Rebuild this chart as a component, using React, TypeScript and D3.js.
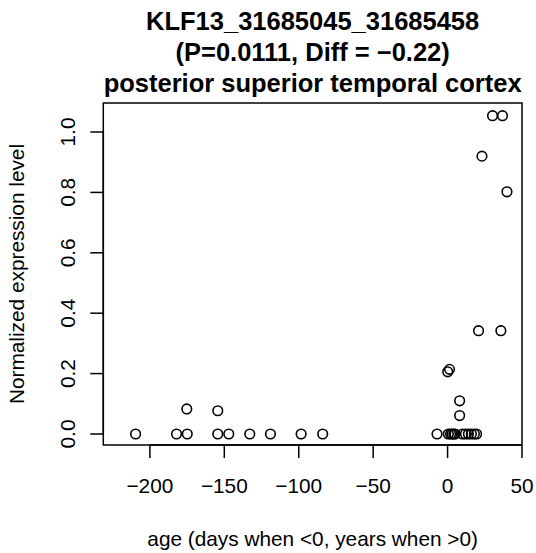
import React from "react";
import * as d3 from "d3";

const titleLines = [
  "KLF13_31685045_31685458",
  "(P=0.0111, Diff = \u22120.22)",
  "posterior superior temporal cortex",
];
const xLabel = "age (days when <0, years when >0)";
const yLabel = "Normalized expression level";

const xTicks = [-200, -150, -100, -50, 0, 50];
const yTicks = [0, 0.2, 0.4, 0.6, 0.8, 1.0];

const ages = [
  -209.6, -182.1, -174.9, -175.2, -154.4, -154.4, -147.0, -132.9, -119.0, -98.4, -83.9,
  -7.1, 0.1, 1.3, 0.5, 2.0, 3.0, 4.2, 5.0, 8.1, 8.1, 10.0, 12.0, 14.0, 16.0, 18.0, 19.5,
  20.8, 35.8, 23.1, 30.2, 36.9, 39.9,
];
const values = [
  0, 0, 0, 0.083, 0, 0.077, 0, 0, 0, 0, 0,
  0, 0.206, 0.214, 0, 0, 0, 0, 0, 0.11, 0.061, 0, 0, 0, 0, 0, 0,
  0.342, 0.342, 0.92, 1.054, 1.054, 0.802,
];

const W = 536;
const H = 553;
const L = 103.3;
const R = 522;
const T = 103;
const B = 445;

const fmtX = (v: number) => (v < 0 ? "\u2212" + Math.abs(v) : String(v));

export default function App() {
  const x = d3.scaleLinear().domain([-231.3, 50]).range([L, R]);
  const y = d3.scaleLinear().domain([0, 1]).range([434, 132]);
  const font = "'Liberation Sans', Arial, sans-serif";
  const pts = ages.map((a, i) => ({ a, v: values[i] }));
  const cx = (L + R) / 2;
  const cy = (T + B) / 2;
  return (
    <svg
      width={W}
      height={H}
      style={{ position: "absolute", left: 0, top: 0, background: "#fff" }}
      fontFamily={font}
    >
      <rect x={0} y={0} width={W} height={H} fill="#fff" />
      {titleLines.map((t, i) => (
        <text
          key={i}
          x={cx}
          y={29.5 + i * 31.1}
          textAnchor="middle"
          fontWeight="bold"
          fontSize={25.5}
          fill="#000"
        >
          {t}
        </text>
      ))}
      <rect x={L} y={T} width={R - L} height={B - T} fill="none" stroke="#000" strokeWidth={1.5} />
      <line x1={x(-200)} x2={x(50)} y1={B} y2={B} stroke="#000" strokeWidth={1.5} />
      {xTicks.map((t) => (
        <g key={t}>
          <line x1={x(t)} x2={x(t)} y1={B} y2={B + 13} stroke="#000" strokeWidth={1.5} />
          <text x={x(t)} y={492.5} textAnchor="middle" fontSize={20.8} fill="#000">
            {fmtX(t)}
          </text>
        </g>
      ))}
      <line x1={L} x2={L} y1={y(0)} y2={y(1)} stroke="#000" strokeWidth={1.5} />
      {yTicks.map((t) => (
        <g key={t}>
          <line x1={L - 13} x2={L} y1={y(t)} y2={y(t)} stroke="#000" strokeWidth={1.5} />
          <text
            transform={`translate(75,${y(t)}) rotate(-90)`}
            textAnchor="middle"
            fontSize={20.8}
            fill="#000"
          >
            {t.toFixed(1)}
          </text>
        </g>
      ))}
      <text x={cx} y={546} textAnchor="middle" fontSize={20.8} fill="#000">
        {xLabel}
      </text>
      <text
        transform={`translate(23.5,${cy}) rotate(-90)`}
        textAnchor="middle"
        fontSize={20.8}
        fill="#000"
      >
        {yLabel}
      </text>
      {pts.map((p, i) => (
        <circle
          key={i}
          cx={x(p.a)}
          cy={y(p.v)}
          r={4.8}
          fill="none"
          stroke="#000"
          strokeWidth={1.6}
        />
      ))}
    </svg>
  );
}
